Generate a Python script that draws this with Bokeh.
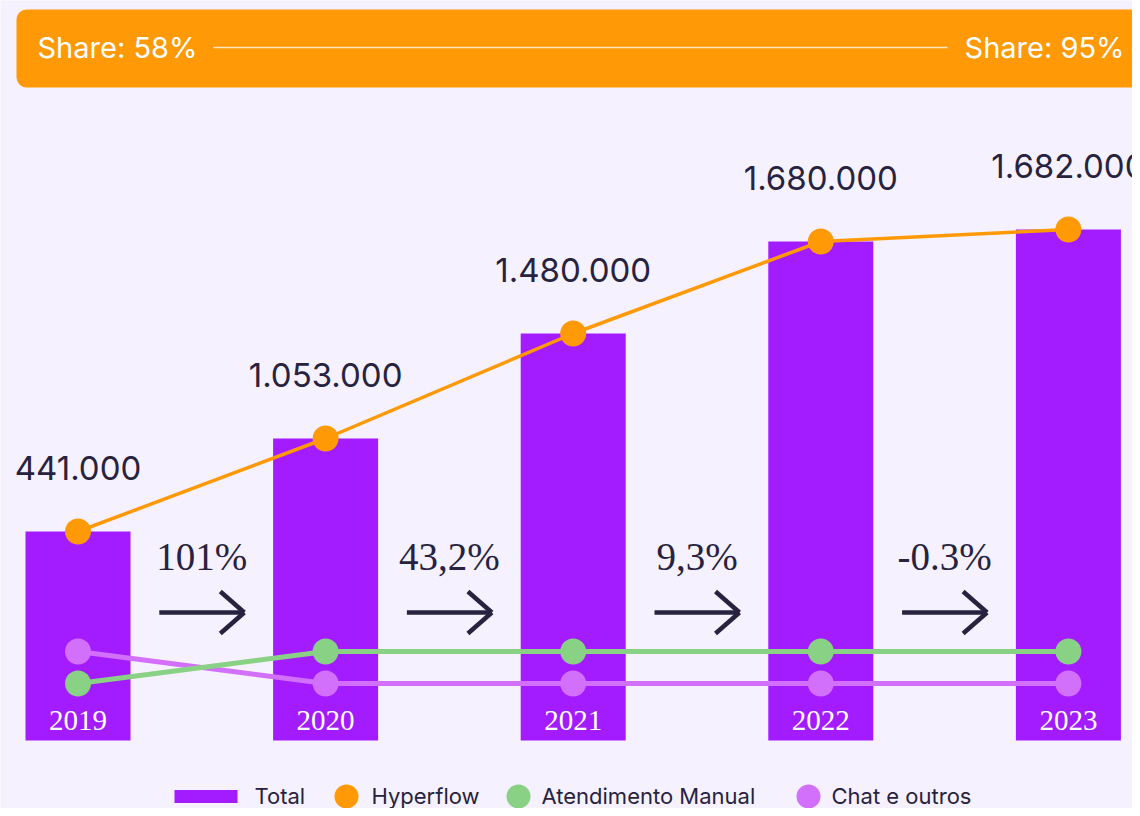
from bokeh.plotting import figure
from bokeh.models import Range1d, BoxAnnotation, Label, ColumnDataSource
from bokeh.embed import file_html
from bokeh.resources import INLINE
from bokeh.core.properties import value

# ---- data ----
years = ["2019", "2020", "2021", "2022", "2023"]
total = [209, 302, 407, 499, 511]          # bar heights (chart units)
hyperflow = [209, 302, 407, 499, 511]
total_labels = ["441.000", "1.053.000", "1.480.000", "1.680.000", "1.682.000"]
manual = [57, 89, 89, 89, 89]
chat = [89, 57, 57, 57, 57]
growth = ["101%", "43,2%", "9,3%", "-0.3%"]
share_start = "Share: 58%"
share_end = "Share: 95%"
legend_labels = ["Total", "Hyperflow", "Atendimento Manual", "Chat e outros"]

# ---- style ----
BG = "#F6F1FE"
PURPLE = "#A31CFF"
ORANGE = "#FF9905"
GREEN = "#89D184"
LILAC = "#D370FB"
DARK = "#27233F"

PX = 247.6  # pixels per category step
W, H = 1132, 808


def sx(rx):
    return (rx - 77.5) / PX


def sy(ry):
    return 740 - ry


idx = list(range(len(years)))

p = figure(width=W, height=H, output_backend="svg", toolbar_location=None,
           x_range=Range1d(sx(0), sx(W)), y_range=Range1d(sy(H), sy(0)),
           min_border=0)
p.axis.visible = False
p.grid.visible = False
p.outline_line_color = None
p.background_fill_color = BG
p.border_fill_color = BG

# banner
p.add_layout(BoxAnnotation(left=sx(16), right=sx(1170), top=sy(9), bottom=sy(87),
                           fill_color=ORANGE, fill_alpha=1, line_color=None,
                           border_radius=10, level="underlay"))
p.segment(x0=[sx(213)], y0=[sy(47)], x1=[sx(947)], y1=[sy(47)],
          line_color="#FFE6C0", line_width=1.5)
p.add_layout(Label(x=sx(37), y=sy(47), text=share_start, text_align="left",
                   text_baseline="middle", text_color="white", text_font="Inter",
                   text_font_size="29px"))
p.add_layout(Label(x=sx(1124), y=sy(47), text=share_end, text_align="right",
                   text_baseline="middle", text_color="white", text_font="Inter",
                   text_font_size="29px"))

# bars
src = ColumnDataSource(dict(x=idx, total=total, hyper=hyperflow, manual=manual,
                            chat=chat, years=years, labels=total_labels,
                            label_y=[t + 64 for t in total],
                            year_y=[20] * len(years)))
p.vbar(x="x", top="total", bottom=0, width=105 / PX, source=src,
       fill_color=PURPLE, line_color=None)

# lines
p.line("x", "chat", source=src, line_color=LILAC, line_width=5)
p.line("x", "manual", source=src, line_color=GREEN, line_width=5)
p.scatter("x", "chat", source=src, size=26, fill_color=LILAC, line_color=None)
p.scatter("x", "manual", source=src, size=26, fill_color=GREEN, line_color=None)
p.line("x", "hyper", source=src, line_color=ORANGE, line_width=3.5)
p.scatter("x", "hyper", source=src, size=26, fill_color=ORANGE, line_color=None)

# value labels
p.text("x", "label_y", text="labels", source=src, text_align="center",
       text_baseline="middle", text_color=DARK,
       text_font=value("Inter"), text_font_size="33px")
# year labels
p.text("x", "year_y", text="years", source=src, text_align="center",
       text_baseline="middle", text_color="white",
       text_font=value("Liberation Serif"), text_font_size="29px")

# growth labels and arrows
mids = [i + 0.5 for i in range(len(growth))]
gsrc = ColumnDataSource(dict(x=mids, y=[184] * len(mids), t=growth))
p.text("x", "y", text="t", source=gsrc, text_align="center",
       text_baseline="middle", text_color=DARK,
       text_font=value("Liberation Serif"), text_font_size="39px")
h = 42.5 / PX
hd = 24 / PX
ay = sy(612)
x0s, y0s, x1s, y1s = [], [], [], []
for m in mids:
    x0s += [m - h, m + h, m + h]
    y0s += [ay, ay, ay]
    x1s += [m + h - 1.5 / PX, m + h - hd, m + h - hd]
    y1s += [ay, ay + 21, ay - 21]
p.segment(x0=x0s, y0=y0s, x1=x1s, y1=y1s, line_color=DARK, line_width=4.5,
          line_cap="butt", line_join="miter")

# legend
ly = sy(796)
p.rect(x=[sx(205.5)], y=[ly], width=63 / PX, height=13, fill_color=PURPLE,
       line_color=None)
p.scatter(x=[sx(346), sx(518), sx(808)], y=[ly] * 3, size=24,
          fill_color=[ORANGE, GREEN, LILAC], line_color=None)
p.text(x=[sx(254), sx(371), sx(541), sx(831)], y=[sy(795)] * 4, text=legend_labels,
       text_align="left", text_baseline="middle", text_color=DARK,
       text_font=value("Inter"), text_font_size="22px")

open("out.html", "w").write(file_html(p, INLINE))
